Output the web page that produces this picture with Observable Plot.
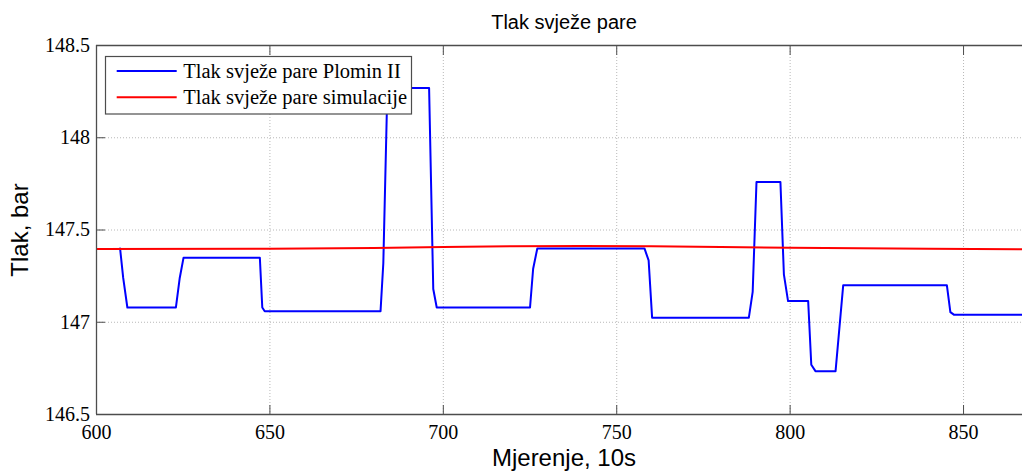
<!DOCTYPE html>
<html><head><meta charset="utf-8">
<script src="https://cdn.jsdelivr.net/npm/d3@7"></script>
<script src="https://cdn.jsdelivr.net/npm/@observablehq/plot@0.6"></script>
<style>
body{margin:0;background:#fff}
#chart{width:1023px;height:473px}
</style>
</head><body><div id="chart"></div>
<script>
const chartTitle = "Tlak svježe pare";
const xLabel = "Mjerenje, 10s";
const yLabel = "Tlak, bar";
const seriesNames = ["Tlak svježe pare Plomin II", "Tlak svježe pare simulacije"];
const seriesColors = ["#0000ff", "#ff0000"];

const xTicks = [600, 650, 700, 750, 800, 850];
const xTickLabels = ["600", "650", "700", "750", "800", "850"];
const yTicks = [146.5, 147, 147.5, 148, 148.5];
const yTickLabels = ["146.5", "147", "147.5", "148", "148.5"];

// measured (Plomin II)
const plominX = [606.8, 607.7, 608.9, 622.9, 624.0, 625.1, 647.1, 647.8, 648.5, 681.9, 682.7, 683.7, 684.5, 695.9, 697.1, 698.1, 725.0, 725.9, 727.1, 758.0, 759.2, 760.2, 788.1, 789.2, 790.3, 797.2, 798.2, 799.4, 805.2, 806.1, 807.3, 813.1, 815.3, 845.2, 846.2, 847.3, 867];
const plominY = [147.40, 147.24, 147.08, 147.08, 147.24, 147.35, 147.35, 147.08, 147.06, 147.06, 147.32, 148.13, 148.27, 148.27, 147.18, 147.08, 147.08, 147.29, 147.40, 147.40, 147.335, 147.025, 147.025, 147.165, 147.76, 147.76, 147.26, 147.115, 147.115, 146.77, 146.735, 146.735, 147.20, 147.20, 147.055, 147.04, 147.04];

// simulation
const simX = [600, 650, 680, 700, 720, 740, 760, 780, 800, 820, 840, 867];
const simY = [147.397, 147.399, 147.403, 147.408, 147.412, 147.413, 147.412, 147.408, 147.404, 147.401, 147.399, 147.396];

const plomin = plominX.map((x, i) => ({x, y: plominY[i]}));
const sim = simX.map((x, i) => ({x, y: simY[i]}));

const serif = "Liberation Serif";
const sans = "Liberation Sans";
const frameColor = "#4d4d4d";
const gridStyle = {stroke: "#b8b8b8", strokeOpacity: 1, strokeDasharray: "1,2"};

const chart = Plot.plot({
  width: 1023, height: 473,
  marginLeft: 96, marginRight: 1, marginTop: 45, marginBottom: 59,
  x: {domain: [600, 867]},
  y: {domain: [146.5, 148.5]},
  style: {fontFamily: serif, fontSize: "20px", color: "#000", background: "#fff"},
  marks: [
    Plot.gridX(xTicks, gridStyle),
    Plot.gridY(yTicks, gridStyle),
    Plot.line(plomin, {x: "x", y: "y", stroke: seriesColors[0], strokeWidth: 2, clip: true}),
    Plot.line(sim, {x: "x", y: "y", stroke: seriesColors[1], strokeWidth: 2, clip: true}),
    Plot.ruleY([146.5, 148.5], {stroke: frameColor, strokeWidth: 1.3}),
    Plot.ruleX([600], {stroke: frameColor, strokeWidth: 1.3}),
    Plot.axisX(xTicks, {anchor: "bottom", tickSize: 9, dy: -9, tickFormat: () => "", stroke: frameColor, label: null}),
    Plot.axisX(xTicks, {anchor: "top", tickSize: 9, dy: 9, tickFormat: () => "", stroke: frameColor, label: null}),
    Plot.axisX(xTicks, {anchor: "bottom", tickSize: 0, tickPadding: 10, tickFormat: d => xTickLabels[xTicks.indexOf(d)], fontSize: 20, label: null}),
    Plot.axisY(yTicks, {anchor: "left", tickSize: 9, dx: 9, tickFormat: () => "", stroke: frameColor, label: null}),
    Plot.axisY(yTicks, {anchor: "left", tickSize: 0, tickPadding: 6.5, tickFormat: d => yTickLabels[yTicks.indexOf(d)], fontSize: 20, label: null})
  ]
});

document.getElementById("chart").appendChild(chart);
const svg = d3.select(chart);
svg.selectAll("text").style("font-family", serif).style("font-size", "20px").attr("fill", "#000");

svg.append("text").attr("x", 564).attr("y", 29.3).attr("text-anchor", "middle")
  .style("font-family", sans).style("font-size", "20px").attr("fill", "#000").text(chartTitle);
svg.append("text").attr("x", 564).attr("y", 465.5).attr("text-anchor", "middle")
  .style("font-family", sans).style("font-size", "24px").attr("fill", "#000").text(xLabel);
svg.append("text").attr("transform", "translate(27.5,230) rotate(-90)").attr("text-anchor", "middle")
  .style("font-family", sans).style("font-size", "24px").attr("fill", "#000").text(yLabel);

const lg = svg.append("g");
lg.append("rect").attr("x", 105.5).attr("y", 56.5).attr("width", 306).attr("height", 57.5)
  .attr("fill", "#fff").attr("stroke", frameColor).attr("stroke-width", 1.2);
const rowY = [71, 97.3];
seriesNames.forEach((name, i) => {
  lg.append("line").attr("x1", 116.7).attr("x2", 176.7).attr("y1", rowY[i]).attr("y2", rowY[i])
    .attr("stroke", seriesColors[i]).attr("stroke-width", 2);
  lg.append("text").attr("x", 183.3).attr("y", rowY[i]).attr("dy", "0.34em").attr("text-anchor", "start")
    .style("font-family", serif).style("font-size", "20.5px").attr("fill", "#000").text(name);
});
</script>
</body></html>
